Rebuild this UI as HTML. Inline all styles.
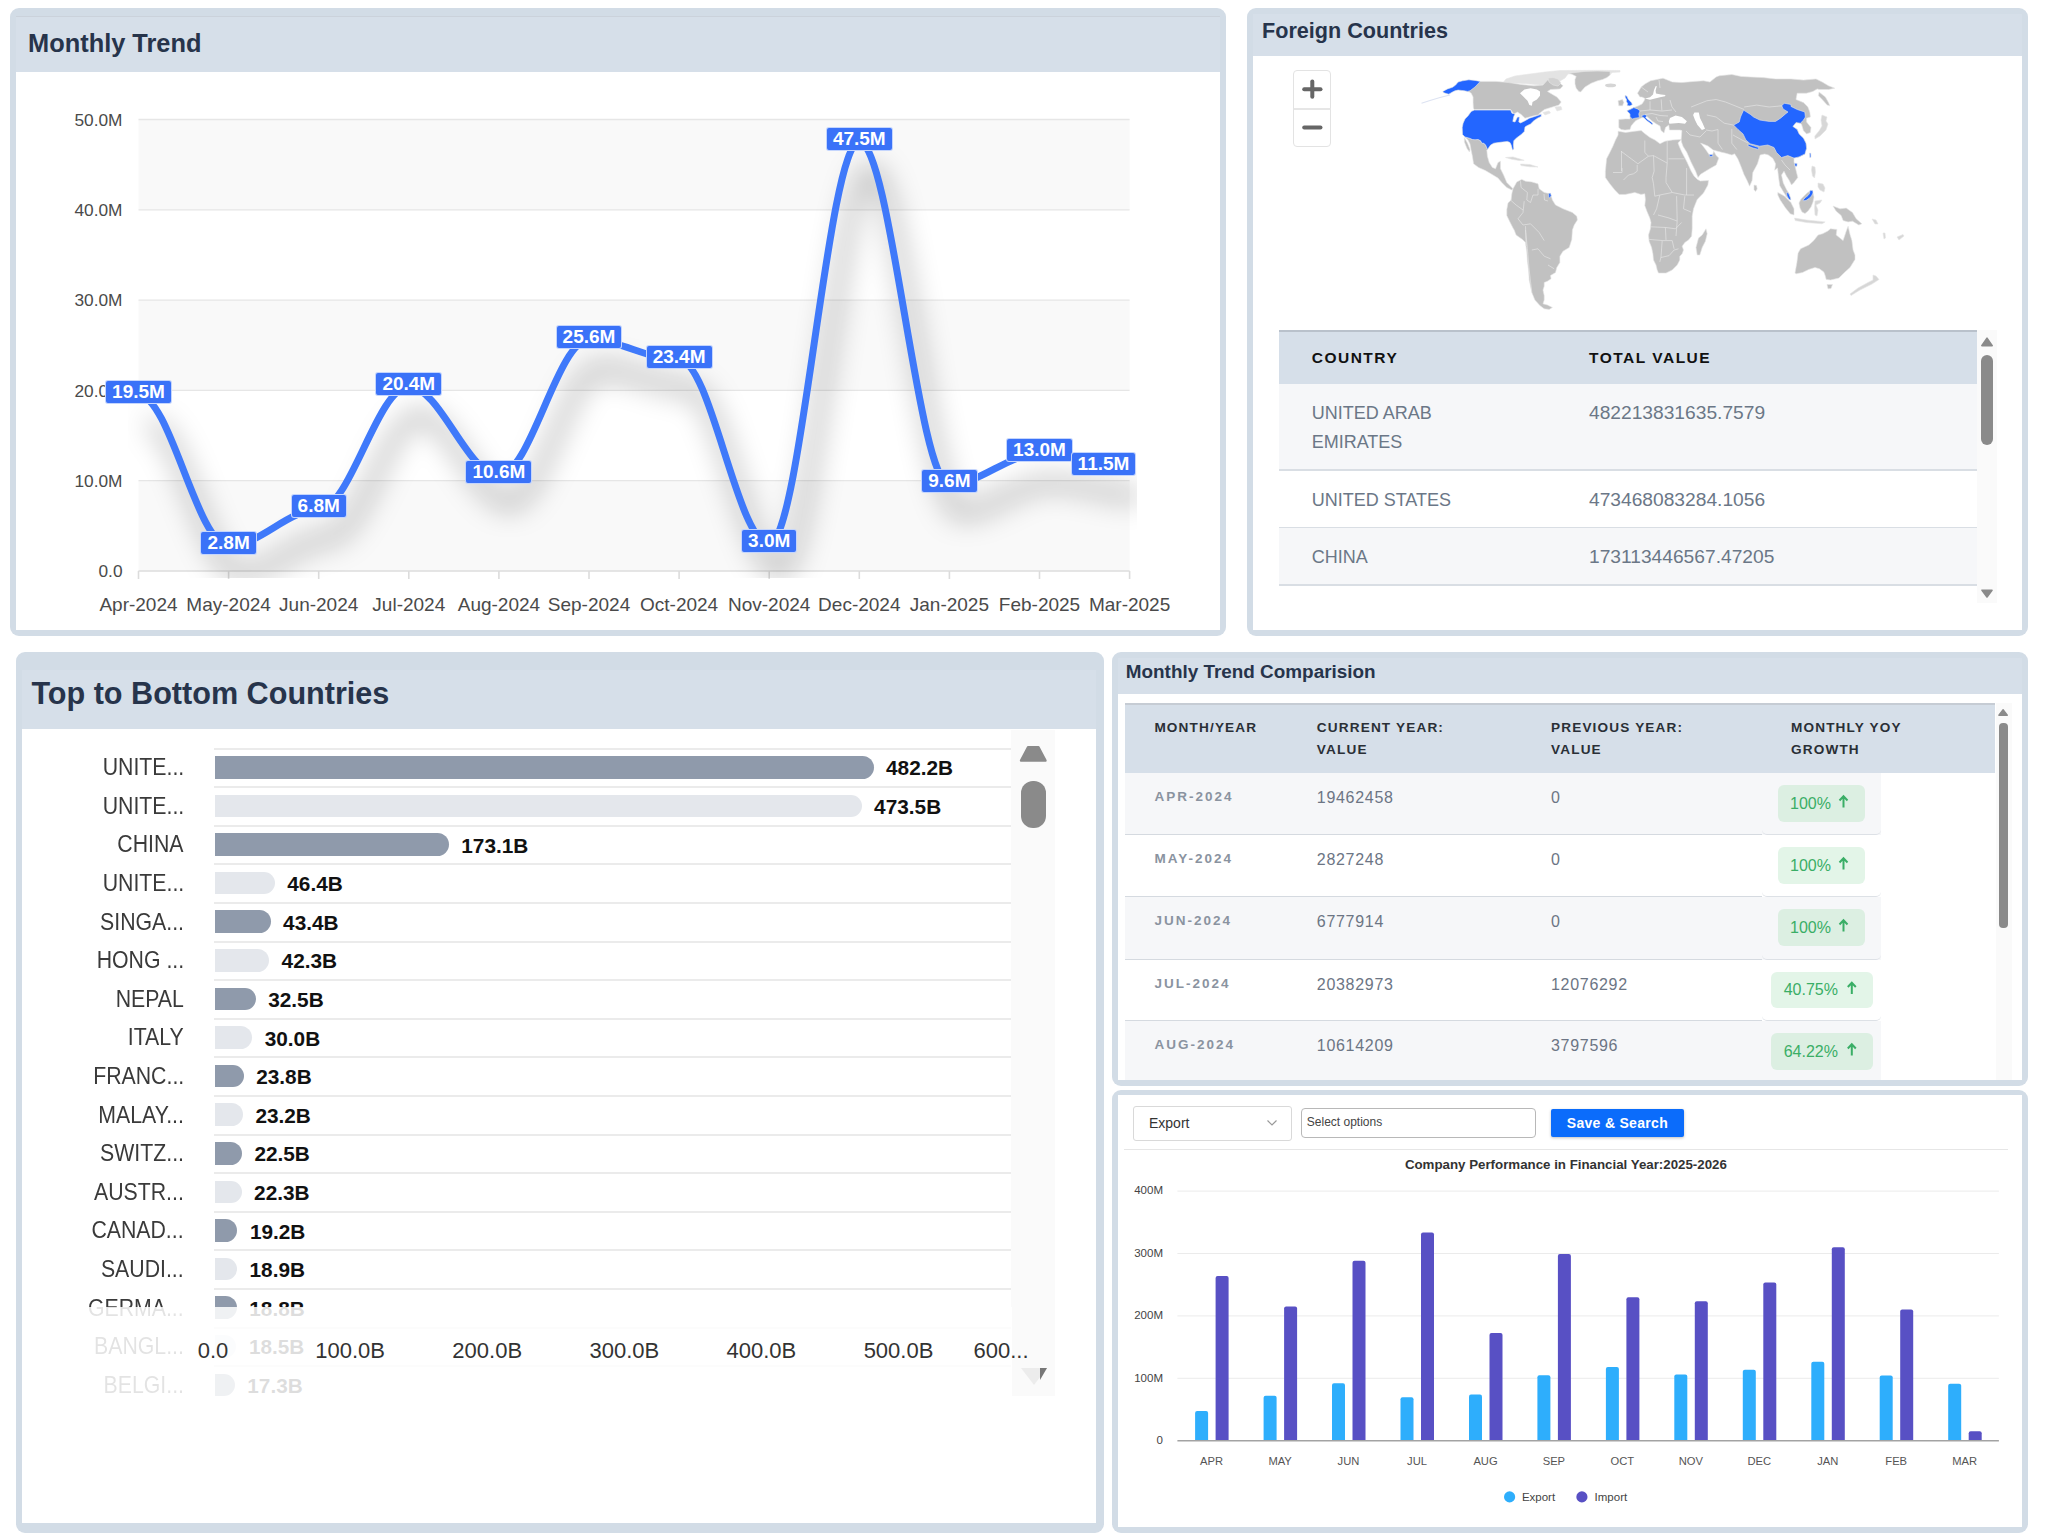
<!DOCTYPE html><html><head><meta charset="utf-8"><title>Dashboard</title><style>
html,body{margin:0;padding:0;background:#fff;width:2048px;height:1536px;overflow:hidden}
body{position:relative;font-family:"Liberation Sans", sans-serif}
.abs{position:absolute}
.t{line-height:1;white-space:nowrap}
svg{position:absolute;overflow:visible}
</style></head><body>
<div class="abs" style="left:10px;top:8px;width:1216px;height:628px;background:#d2dce6;border-radius:9px"></div>
<div class="abs" style="left:16px;top:16px;width:1204px;height:56px;background:#d6dfe9"></div>
<div class="abs" style="left:16px;top:72px;width:1204px;height:558px;background:#fff"></div>
<div class="abs" style="left:16px;top:16px;width:1204px;height:1.2px;background:#cbd2db"></div>
<div class="abs t" style="left:28.0px;top:31.0px;font-size:25.4px;font-weight:bold;color:#27344b;letter-spacing:0px;">Monthly Trend</div>
<svg class="abs" style="left:0;top:0" width="2048" height="700" viewBox="0 0 2048 700"><defs><filter id="lsh" filterUnits="userSpaceOnUse" x="0" y="0" width="1300" height="700"><feGaussianBlur stdDeviation="14"/></filter><clipPath id="shclip"><rect x="128" y="100" width="1009" height="478"/></clipPath></defs><rect x="138.5" y="480.7" width="991.1" height="90.3" fill="#f9f9f9"/><rect x="138.5" y="300.1" width="991.1" height="90.3" fill="#f9f9f9"/><rect x="138.5" y="119.5" width="991.1" height="90.3" fill="#f9f9f9"/><line x1="138.5" x2="1129.6" y1="480.7" y2="480.7" stroke="#e6e6e6" stroke-width="1.3"/><line x1="138.5" x2="1129.6" y1="390.4" y2="390.4" stroke="#e6e6e6" stroke-width="1.3"/><line x1="138.5" x2="1129.6" y1="300.1" y2="300.1" stroke="#e6e6e6" stroke-width="1.3"/><line x1="138.5" x2="1129.6" y1="209.8" y2="209.8" stroke="#e6e6e6" stroke-width="1.3"/><line x1="138.5" x2="1129.6" y1="119.5" y2="119.5" stroke="#e6e6e6" stroke-width="1.3"/><line x1="138.5" x2="1129.6" y1="571.0" y2="571.0" stroke="#dcdcdc" stroke-width="1.6"/><line x1="138.5" x2="138.5" y1="571.0" y2="579.0" stroke="#dcdcdc" stroke-width="1.6"/><line x1="228.6" x2="228.6" y1="571.0" y2="579.0" stroke="#dcdcdc" stroke-width="1.6"/><line x1="318.7" x2="318.7" y1="571.0" y2="579.0" stroke="#dcdcdc" stroke-width="1.6"/><line x1="408.8" x2="408.8" y1="571.0" y2="579.0" stroke="#dcdcdc" stroke-width="1.6"/><line x1="498.9" x2="498.9" y1="571.0" y2="579.0" stroke="#dcdcdc" stroke-width="1.6"/><line x1="589.0" x2="589.0" y1="571.0" y2="579.0" stroke="#dcdcdc" stroke-width="1.6"/><line x1="679.1" x2="679.1" y1="571.0" y2="579.0" stroke="#dcdcdc" stroke-width="1.6"/><line x1="769.2" x2="769.2" y1="571.0" y2="579.0" stroke="#dcdcdc" stroke-width="1.6"/><line x1="859.3" x2="859.3" y1="571.0" y2="579.0" stroke="#dcdcdc" stroke-width="1.6"/><line x1="949.4" x2="949.4" y1="571.0" y2="579.0" stroke="#dcdcdc" stroke-width="1.6"/><line x1="1039.5" x2="1039.5" y1="571.0" y2="579.0" stroke="#dcdcdc" stroke-width="1.6"/><line x1="1129.6" x2="1129.6" y1="571.0" y2="579.0" stroke="#dcdcdc" stroke-width="1.6"/><g clip-path="url(#shclip)"><path d="M138.50,394.92 C170.03,394.92 197.06,545.72 228.60,545.72 C260.13,545.72 287.16,509.60 318.70,509.60 C350.23,509.60 377.26,386.79 408.80,386.79 C440.33,386.79 467.36,475.28 498.90,475.28 C530.43,475.28 557.47,339.83 589.00,339.83 C620.53,339.83 647.56,359.70 679.10,359.70 C710.63,359.70 737.66,543.91 769.20,543.91 C800.73,543.91 827.76,142.08 859.30,142.08 C890.83,142.08 917.87,484.31 949.40,484.31 C980.93,484.31 1007.97,453.61 1039.50,453.61 C1071.03,453.61 1098.07,467.15 1129.60,467.15" fill="none" stroke="#000" stroke-opacity="0.5" stroke-width="7" filter="url(#lsh)" transform="translate(11,29)"/></g><path d="M138.50,394.92 C170.03,394.92 197.06,545.72 228.60,545.72 C260.13,545.72 287.16,509.60 318.70,509.60 C350.23,509.60 377.26,386.79 408.80,386.79 C440.33,386.79 467.36,475.28 498.90,475.28 C530.43,475.28 557.47,339.83 589.00,339.83 C620.53,339.83 647.56,359.70 679.10,359.70 C710.63,359.70 737.66,543.91 769.20,543.91 C800.73,543.91 827.76,142.08 859.30,142.08 C890.83,142.08 917.87,484.31 949.40,484.31 C980.93,484.31 1007.97,453.61 1039.50,453.61 C1071.03,453.61 1098.07,467.15 1129.60,467.15" fill="none" stroke="#3f79fa" stroke-width="7" stroke-linejoin="round" stroke-linecap="butt"/></svg>
<div class="abs t" style="right:1925.5px;top:563.3px;font-size:17.3px;font-weight:normal;color:#4a4a4a;letter-spacing:0px;">0.0</div>
<div class="abs t" style="right:1925.5px;top:473.0px;font-size:17.3px;font-weight:normal;color:#4a4a4a;letter-spacing:0px;">10.0M</div>
<div class="abs t" style="right:1925.5px;top:382.7px;font-size:17.3px;font-weight:normal;color:#4a4a4a;letter-spacing:0px;">20.0M</div>
<div class="abs t" style="right:1925.5px;top:292.4px;font-size:17.3px;font-weight:normal;color:#4a4a4a;letter-spacing:0px;">30.0M</div>
<div class="abs t" style="right:1925.5px;top:202.1px;font-size:17.3px;font-weight:normal;color:#4a4a4a;letter-spacing:0px;">40.0M</div>
<div class="abs t" style="right:1925.5px;top:111.8px;font-size:17.3px;font-weight:normal;color:#4a4a4a;letter-spacing:0px;">50.0M</div>
<div class="abs t" style="left:-361.5px;width:1000px;text-align:center;top:594.5px;font-size:19px;font-weight:normal;color:#4a4a4a;letter-spacing:0px;">Apr-2024</div>
<div class="abs t" style="left:-271.4px;width:1000px;text-align:center;top:594.5px;font-size:19px;font-weight:normal;color:#4a4a4a;letter-spacing:0px;">May-2024</div>
<div class="abs t" style="left:-181.3px;width:1000px;text-align:center;top:594.5px;font-size:19px;font-weight:normal;color:#4a4a4a;letter-spacing:0px;">Jun-2024</div>
<div class="abs t" style="left:-91.2px;width:1000px;text-align:center;top:594.5px;font-size:19px;font-weight:normal;color:#4a4a4a;letter-spacing:0px;">Jul-2024</div>
<div class="abs t" style="left:-1.1px;width:1000px;text-align:center;top:594.5px;font-size:19px;font-weight:normal;color:#4a4a4a;letter-spacing:0px;">Aug-2024</div>
<div class="abs t" style="left:89.0px;width:1000px;text-align:center;top:594.5px;font-size:19px;font-weight:normal;color:#4a4a4a;letter-spacing:0px;">Sep-2024</div>
<div class="abs t" style="left:179.1px;width:1000px;text-align:center;top:594.5px;font-size:19px;font-weight:normal;color:#4a4a4a;letter-spacing:0px;">Oct-2024</div>
<div class="abs t" style="left:269.2px;width:1000px;text-align:center;top:594.5px;font-size:19px;font-weight:normal;color:#4a4a4a;letter-spacing:0px;">Nov-2024</div>
<div class="abs t" style="left:359.3px;width:1000px;text-align:center;top:594.5px;font-size:19px;font-weight:normal;color:#4a4a4a;letter-spacing:0px;">Dec-2024</div>
<div class="abs t" style="left:449.4px;width:1000px;text-align:center;top:594.5px;font-size:19px;font-weight:normal;color:#4a4a4a;letter-spacing:0px;">Jan-2025</div>
<div class="abs t" style="left:539.5px;width:1000px;text-align:center;top:594.5px;font-size:19px;font-weight:normal;color:#4a4a4a;letter-spacing:0px;">Feb-2025</div>
<div class="abs t" style="left:629.6px;width:1000px;text-align:center;top:594.5px;font-size:19px;font-weight:normal;color:#4a4a4a;letter-spacing:0px;">Mar-2025</div>
<div class="abs t" style="left:78.5px;width:120px;top:379.7px;height:24px;display:flex;justify-content:center;align-items:center"><span style="background:#3a72f8;color:#fff;font-weight:bold;font-size:19px;line-height:22px;height:22px;padding:0 6px;border-radius:3px;border:1px solid rgba(255,255,255,0.7)">19.5M</span></div>
<div class="abs t" style="left:168.6px;width:120px;top:530.5px;height:24px;display:flex;justify-content:center;align-items:center"><span style="background:#3a72f8;color:#fff;font-weight:bold;font-size:19px;line-height:22px;height:22px;padding:0 6px;border-radius:3px;border:1px solid rgba(255,255,255,0.7)">2.8M</span></div>
<div class="abs t" style="left:258.7px;width:120px;top:494.4px;height:24px;display:flex;justify-content:center;align-items:center"><span style="background:#3a72f8;color:#fff;font-weight:bold;font-size:19px;line-height:22px;height:22px;padding:0 6px;border-radius:3px;border:1px solid rgba(255,255,255,0.7)">6.8M</span></div>
<div class="abs t" style="left:348.8px;width:120px;top:371.6px;height:24px;display:flex;justify-content:center;align-items:center"><span style="background:#3a72f8;color:#fff;font-weight:bold;font-size:19px;line-height:22px;height:22px;padding:0 6px;border-radius:3px;border:1px solid rgba(255,255,255,0.7)">20.4M</span></div>
<div class="abs t" style="left:438.9px;width:120px;top:460.1px;height:24px;display:flex;justify-content:center;align-items:center"><span style="background:#3a72f8;color:#fff;font-weight:bold;font-size:19px;line-height:22px;height:22px;padding:0 6px;border-radius:3px;border:1px solid rgba(255,255,255,0.7)">10.6M</span></div>
<div class="abs t" style="left:529.0px;width:120px;top:324.6px;height:24px;display:flex;justify-content:center;align-items:center"><span style="background:#3a72f8;color:#fff;font-weight:bold;font-size:19px;line-height:22px;height:22px;padding:0 6px;border-radius:3px;border:1px solid rgba(255,255,255,0.7)">25.6M</span></div>
<div class="abs t" style="left:619.1px;width:120px;top:344.5px;height:24px;display:flex;justify-content:center;align-items:center"><span style="background:#3a72f8;color:#fff;font-weight:bold;font-size:19px;line-height:22px;height:22px;padding:0 6px;border-radius:3px;border:1px solid rgba(255,255,255,0.7)">23.4M</span></div>
<div class="abs t" style="left:709.2px;width:120px;top:528.7px;height:24px;display:flex;justify-content:center;align-items:center"><span style="background:#3a72f8;color:#fff;font-weight:bold;font-size:19px;line-height:22px;height:22px;padding:0 6px;border-radius:3px;border:1px solid rgba(255,255,255,0.7)">3.0M</span></div>
<div class="abs t" style="left:799.3px;width:120px;top:126.9px;height:24px;display:flex;justify-content:center;align-items:center"><span style="background:#3a72f8;color:#fff;font-weight:bold;font-size:19px;line-height:22px;height:22px;padding:0 6px;border-radius:3px;border:1px solid rgba(255,255,255,0.7)">47.5M</span></div>
<div class="abs t" style="left:889.4px;width:120px;top:469.1px;height:24px;display:flex;justify-content:center;align-items:center"><span style="background:#3a72f8;color:#fff;font-weight:bold;font-size:19px;line-height:22px;height:22px;padding:0 6px;border-radius:3px;border:1px solid rgba(255,255,255,0.7)">9.6M</span></div>
<div class="abs t" style="left:979.5px;width:120px;top:438.4px;height:24px;display:flex;justify-content:center;align-items:center"><span style="background:#3a72f8;color:#fff;font-weight:bold;font-size:19px;line-height:22px;height:22px;padding:0 6px;border-radius:3px;border:1px solid rgba(255,255,255,0.7)">13.0M</span></div>
<div class="abs t" style="left:1043.5px;width:120px;top:452.0px;height:24px;display:flex;justify-content:center;align-items:center"><span style="background:#3a72f8;color:#fff;font-weight:bold;font-size:19px;line-height:22px;height:22px;padding:0 6px;border-radius:3px;border:1px solid rgba(255,255,255,0.7)">11.5M</span></div>
<div class="abs" style="left:1247px;top:8px;width:781px;height:628px;background:#d2dce6;border-radius:9px"></div>
<div class="abs" style="left:1253px;top:14px;width:769px;height:42px;background:#d6dfe9"></div>
<div class="abs" style="left:1253px;top:56px;width:769px;height:574px;background:#fff"></div>
<div class="abs t" style="left:1262.0px;top:20.3px;font-size:21.6px;font-weight:bold;color:#27344b;letter-spacing:0px;">Foreign Countries</div>
<svg class="abs" style="left:0;top:0" width="2048" height="640" viewBox="0 0 2048 640">
<g stroke="#e6e6e6" stroke-width="0.6" stroke-linejoin="round">
<path d="M1502.0,84.0 L1506.0,79.0 L1515.0,76.0 L1530.0,74.0 L1545.0,72.0 L1560.0,70.5 L1600.0,70.3 L1620.0,70.5 L1620.0,72.0 L1612.0,72.5 L1610.0,75.0 L1600.0,73.0 L1575.0,73.0 L1568.0,74.0 L1565.0,78.0 L1555.0,84.0 L1540.0,85.0 L1530.0,84.0 L1515.0,83.0 Z" fill="#e3e3e3"/>
<path d="M1480.3,81.4 L1496.2,81.4 L1508.8,82.6 L1521.2,84.5 L1533.8,85.8 L1543.0,85.1 L1547.5,80.0 L1556.9,80.8 L1563.1,85.8 L1560.0,88.9 L1550.6,89.5 L1547.5,91.4 L1552.5,94.5 L1556.9,97.0 L1561.2,102.0 L1558.8,105.1 L1550.6,107.6 L1544.4,109.5 L1541.2,112.0 L1538.8,113.9 L1541.2,114.2 L1533.8,115.8 L1527.5,117.6 L1525.0,118.2 L1521.2,114.5 L1517.5,112.0 L1513.8,113.9 L1510.6,109.5 L1474.4,109.5 L1473.4,108.2 L1473.1,102.6 L1473.1,97.0 L1471.2,93.2 L1469.4,92.0 L1467.5,91.4 Z" fill="#c1c1c1"/>
<path d="M1548.0,78.0 L1553.0,77.5 L1558.0,79.0 L1561.0,83.0 L1558.0,86.0 L1553.0,85.0 L1549.0,82.0 Z" fill="#d2d2d2"/>
<path d="M1520.0,93.2 L1524.4,89.5 L1530.6,88.2 L1536.9,89.5 L1540.0,91.4 L1540.0,95.8 L1536.9,99.5 L1532.5,102.0 L1531.9,105.8 L1529.4,105.1 L1527.5,100.8 L1523.8,97.0 Z" fill="#fff" stroke="none"/>
<path d="M1568.8,73.2 L1585.0,71.4 L1597.5,71.1 L1610.0,71.4 L1610.0,75.1 L1606.9,77.6 L1602.5,79.5 L1597.5,80.8 L1591.2,83.2 L1585.0,87.0 L1580.6,92.0 L1578.8,91.4 L1576.2,88.2 L1575.0,83.9 L1575.0,79.5 L1576.2,76.4 L1572.5,74.5 Z" fill="#c1c1c1"/>
<path d="M1555.0,107.0 L1561.0,106.5 L1562.0,109.5 L1557.0,111.0 Z" fill="#e2e2e2"/>
<path d="M1543.0,112.5 L1549.0,111.0 L1550.5,113.0 L1545.0,115.0 Z" fill="#e2e2e2"/>
<path d="M1465.0,137.0 L1469.4,138.2 L1472.5,139.5 L1478.1,139.5 L1480.6,140.8 L1481.9,143.2 L1483.8,143.2 L1485.6,145.1 L1487.5,149.5 L1486.8,150.0 L1487.4,156.2 L1489.2,162.5 L1492.4,167.5 L1495.5,168.8 L1498.0,162.5 L1500.5,161.2 L1500.5,168.8 L1503.6,175.0 L1506.8,182.5 L1511.8,187.5 L1513.0,188.8 L1511.8,190.0 L1506.8,187.5 L1501.8,182.5 L1498.0,178.1 L1493.0,175.0 L1485.5,170.6 L1478.6,167.5 L1473.6,163.8 L1472.4,156.2 L1471.1,150.0 L1470.0,144.0 L1468.0,140.0 Z" fill="#c1c1c1"/>
<path d="M1464.4,137.6 L1467.5,143.2 L1470.0,149.5 L1469.4,152.0 L1466.9,148.2 L1464.4,142.0 Z" fill="#c1c1c1"/>
<path d="M1505.5,157.5 L1513.0,156.9 L1519.2,158.8 L1524.2,160.3 L1519.2,160.5 L1511.8,159.3 Z" fill="#d7d7d7"/>
<path d="M1520.5,164.0 L1530.0,164.5 L1538.0,167.0 L1530.0,166.8 L1521.0,165.6 Z" fill="#d7d7d7"/>
<path d="M1513.0,188.8 L1516.8,181.9 L1521.8,179.4 L1525.5,181.2 L1531.8,181.9 L1538.0,183.8 L1539.2,188.8 L1544.2,192.5 L1550.5,193.8 L1552.4,200.0 L1555.5,205.0 L1563.0,208.8 L1572.4,212.5 L1576.8,216.2 L1577.4,220.0 L1574.2,225.0 L1572.4,230.0 L1571.8,239.4 L1569.2,247.5 L1563.0,251.2 L1559.9,256.2 L1559.9,262.5 L1556.8,267.5 L1555.5,272.5 L1550.5,275.6 L1551.1,278.8 L1547.4,281.2 L1544.2,282.5 L1544.2,286.2 L1543.0,290.0 L1544.2,295.6 L1544.2,300.0 L1543.0,303.8 L1547.4,305.0 L1552.4,307.5 L1549.2,309.4 L1544.2,308.8 L1539.9,305.6 L1534.9,300.0 L1531.8,292.5 L1530.5,286.2 L1529.2,280.0 L1528.6,270.6 L1527.4,261.2 L1526.8,251.9 L1525.5,242.5 L1522.4,239.4 L1516.1,235.0 L1514.2,230.0 L1513.0,228.1 L1509.9,221.9 L1506.8,215.6 L1506.8,209.4 L1508.0,203.1 L1511.1,200.0 L1511.8,193.8 Z" fill="#c1c1c1"/>
<path d="M1618.1,131.2 L1625.6,132.5 L1635.0,131.2 L1641.2,130.6 L1645.0,133.8 L1650.0,137.5 L1655.0,140.0 L1660.0,143.8 L1665.0,141.2 L1672.5,140.0 L1681.2,139.4 L1678.0,143.0 L1679.5,147.0 L1682.0,152.5 L1687.0,162.0 L1691.2,171.2 L1694.0,176.0 L1697.5,179.5 L1700.4,181.0 L1708.5,180.5 L1707.9,185.0 L1703.5,193.1 L1697.2,199.4 L1693.5,208.8 L1692.2,216.2 L1692.2,225.6 L1692.2,228.8 L1691.6,236.2 L1688.5,240.0 L1684.8,242.5 L1682.2,246.2 L1683.5,250.0 L1682.2,253.8 L1679.8,256.2 L1679.8,260.0 L1677.2,265.0 L1672.2,270.0 L1666.0,273.1 L1658.5,273.1 L1657.2,270.0 L1656.0,265.0 L1653.5,260.0 L1652.9,253.8 L1651.6,247.5 L1649.1,241.2 L1648.5,235.0 L1650.4,228.8 L1651.0,222.5 L1649.8,218.1 L1647.2,211.9 L1644.8,205.6 L1645.4,199.4 L1644.8,193.8 L1641.0,194.4 L1634.8,192.5 L1625.4,194.4 L1619.1,194.4 L1614.8,190.0 L1609.8,183.8 L1605.4,177.5 L1605.4,171.2 L1606.0,165.0 L1606.6,158.8 L1609.8,152.5 L1612.9,146.2 L1615.5,140.0 L1618.1,135.0 Z" fill="#c1c1c1"/>
<path d="M1696.0,247.5 L1698.5,238.1 L1702.2,235.0 L1706.0,228.8 L1707.2,233.8 L1705.4,241.2 L1702.2,247.5 L1699.8,255.0 L1697.2,255.0 Z" fill="#c1c1c1"/>
<path d="M1621.2,129.5 L1618.8,127.6 L1618.8,122.6 L1618.8,119.5 L1625.6,118.9 L1630.0,119.0 L1630.0,117.0 L1630.0,113.9 L1626.9,110.8 L1630.0,109.5 L1633.8,107.6 L1638.0,106.0 L1642.0,104.0 L1644.0,101.0 L1645.0,98.5 L1642.0,97.0 L1640.0,97.0 L1637.5,93.2 L1641.2,87.0 L1645.0,83.9 L1650.6,80.8 L1656.9,79.5 L1663.0,78.2 L1672.4,82.0 L1681.8,82.6 L1694.2,81.4 L1703.6,80.8 L1709.9,82.0 L1716.1,77.0 L1719.2,75.8 L1731.8,74.5 L1741.1,76.4 L1750.5,77.0 L1763.0,77.6 L1775.5,78.9 L1791.0,78.9 L1803.5,80.1 L1816.0,78.9 L1822.2,82.0 L1828.5,85.8 L1834.8,88.2 L1828.5,89.5 L1819.1,89.5 L1817.2,88.9 L1812.9,91.4 L1806.6,93.2 L1797.2,93.2 L1796.0,99.5 L1803.5,102.6 L1807.9,107.0 L1809.8,112.0 L1810.4,117.0 L1806.6,118.2 L1806.6,122.0 L1811.0,127.6 L1810.4,132.6 L1806.6,133.9 L1803.5,130.8 L1801.6,124.5 L1800.4,123.2 L1796.0,122.6 L1792.9,126.4 L1797.2,129.5 L1799.1,133.9 L1803.5,138.2 L1806.0,143.2 L1806.6,148.2 L1804.0,154.4 L1799.0,156.9 L1794.0,158.1 L1794.0,161.9 L1797.8,177.5 L1794.0,182.5 L1791.5,185.0 L1789.0,180.0 L1786.5,176.2 L1784.0,171.2 L1781.5,175.0 L1783.3,183.0 L1786.5,189.5 L1789.6,194.5 L1790.6,199.6 L1787.0,197.5 L1783.5,192.0 L1779.8,185.8 L1778.6,177.5 L1777.5,168.0 L1774.7,170.2 L1775.6,163.8 L1772.8,158.3 L1768.3,154.9 L1764.6,154.0 L1760.1,155.0 L1757.5,163.8 L1752.8,172.5 L1752.1,180.6 L1749.6,186.2 L1747.1,180.6 L1744.0,174.4 L1740.9,166.2 L1737.8,158.8 L1734.6,153.8 L1731.9,155.0 L1725.0,153.0 L1722.5,152.5 L1713.1,150.0 L1708.0,146.0 L1700.6,143.1 L1705.6,149.4 L1709.4,155.0 L1712.5,155.0 L1713.8,151.2 L1716.2,155.6 L1718.8,158.1 L1716.2,165.0 L1710.0,168.5 L1700.6,174.2 L1698.0,177.5 L1695.6,171.2 L1691.0,162.0 L1686.9,152.5 L1683.0,146.2 L1681.5,141.9 L1681.2,139.4 L1681.9,130.6 L1680.0,130.0 L1669.4,130.0 L1668.8,125.0 L1665.5,127.5 L1664.0,133.0 L1661.0,130.5 L1660.0,126.0 L1656.5,124.0 L1652.0,121.0 L1647.0,116.5 L1641.0,118.0 L1636.0,120.5 L1634.4,122.0 L1631.2,125.8 L1630.0,129.5 L1625.0,130.1 Z" fill="#c1c1c1"/>
<path d="M1670.0,118.1 L1675.6,115.6 L1681.9,116.9 L1686.9,121.2 L1685.0,123.8 L1678.8,123.1 L1669.4,123.8 L1668.8,121.2 Z" fill="#fff" stroke="none"/>
<path d="M1694.4,112.5 L1698.8,112.5 L1700.0,118.1 L1702.5,123.1 L1705.0,128.8 L1701.9,130.0 L1697.5,125.0 L1695.0,120.0 L1693.1,115.0 Z" fill="#fff" stroke="none"/>
<path d="M1645.0,98.6 L1650.0,97.2 L1653.0,94.5 L1654.0,90.0 L1655.8,86.0 L1656.8,86.2 L1655.6,90.5 L1656.0,93.5 L1661.0,94.6 L1665.5,95.0 L1665.0,96.3 L1660.0,97.2 L1655.0,98.4 L1650.0,99.8 Z" fill="#fff" stroke="none"/>
<path d="M1618.1,100.8 L1622.5,99.5 L1623.8,102.6 L1622.5,105.8 L1618.8,105.8 Z" fill="#c1c1c1"/>
<path d="M1754.0,185.0 L1756.5,185.5 L1757.2,189.0 L1755.5,191.5 L1754.0,189.5 Z" fill="#c1c1c1"/>
<path d="M1822.0,115.0 L1827.0,117.0 L1826.0,121.0 L1828.0,124.0 L1826.0,130.0 L1820.0,136.0 L1815.0,139.0 L1814.8,136.0 L1819.0,131.0 L1822.0,126.0 L1821.0,120.0 Z" fill="#d7d7d7"/>
<path d="M1819.0,92.0 L1825.4,97.0 L1828.5,102.6 L1829.8,105.8 L1827.2,105.1 L1822.2,99.5 L1818.5,95.8 Z" fill="#c1c1c1"/>
<path d="M1777.8,192.5 L1784.6,196.2 L1790.9,202.5 L1794.0,208.8 L1794.0,215.0 L1790.2,213.8 L1785.2,207.5 L1780.2,200.0 L1777.8,195.0 Z" fill="#c1c1c1"/>
<path d="M1794.6,218.1 L1806.5,220.0 L1825.2,221.9 L1822.1,223.8 L1806.5,222.5 L1795.2,220.6 Z" fill="#d7d7d7"/>
<path d="M1799.0,203.0 L1801.0,199.0 L1804.0,196.0 L1807.0,193.0 L1810.0,191.0 L1813.0,193.0 L1814.0,197.0 L1813.0,202.0 L1811.0,207.0 L1808.0,211.0 L1805.0,213.5 L1802.0,212.0 L1800.0,208.0 Z" fill="#c1c1c1"/>
<path d="M1815.0,201.0 L1822.0,200.0 L1820.0,203.0 L1816.0,205.0 L1818.0,210.0 L1817.0,216.0 L1815.0,215.0 L1814.6,208.0 Z" fill="#d7d7d7"/>
<path d="M1812.0,166.0 L1815.0,167.0 L1815.5,172.0 L1814.5,178.0 L1812.5,176.0 L1811.5,170.0 Z" fill="#d7d7d7"/>
<path d="M1818.0,183.0 L1823.0,184.0 L1825.0,188.0 L1824.0,192.0 L1820.0,190.0 L1818.0,187.0 Z" fill="#d7d7d7"/>
<path d="M1833.0,206.0 L1840.0,208.8 L1846.2,208.1 L1852.5,212.5 L1856.2,218.8 L1861.9,223.8 L1858.8,225.0 L1852.5,221.2 L1848.1,221.9 L1843.1,220.6 L1841.2,215.6 L1836.0,211.0 Z" fill="#c1c1c1"/>
<path d="M1795.0,273.1 L1796.9,262.5 L1798.1,253.1 L1800.6,248.8 L1808.8,245.0 L1813.8,240.6 L1818.1,235.0 L1822.5,233.8 L1827.5,231.2 L1830.6,228.8 L1836.9,229.4 L1836.2,235.0 L1843.1,240.6 L1846.2,231.2 L1848.1,226.2 L1850.0,234.4 L1851.9,240.6 L1853.1,250.0 L1855.0,255.0 L1855.0,259.4 L1850.0,267.5 L1844.4,272.5 L1838.8,278.1 L1830.6,280.0 L1826.2,279.4 L1825.0,275.0 L1823.8,271.9 L1819.4,268.8 L1815.0,267.5 L1808.8,269.4 L1802.5,272.5 L1796.2,273.8 Z" fill="#c1c1c1"/>
<path d="M1827.0,284.5 L1832.5,284.5 L1831.0,288.5 L1828.0,288.8 Z" fill="#c1c1c1"/>
<path d="M1873.0,275.0 L1876.0,276.0 L1879.0,279.5 L1872.0,284.0 L1860.0,290.0 L1851.0,295.5 L1850.0,294.0 L1858.0,288.0 L1868.0,282.5 L1873.0,280.0 Z" fill="#d7d7d7"/>
<path d="M1897.0,237.0 L1903.0,234.5 L1904.0,236.0 L1899.0,240.0 Z" fill="#d7d7d7"/>
<path d="M1883.0,233.0 L1885.0,233.0 L1885.5,238.0 L1884.0,239.0 Z" fill="#d7d7d7"/>
<path d="M1872.0,219.0 L1876.0,220.0 L1878.0,224.0 L1875.0,224.0 Z" fill="#d7d7d7"/>
<path d="M1442.8,91.4 L1447.5,88.9 L1452.5,87.3 L1455.6,85.1 L1458.1,82.0 L1462.5,80.8 L1468.8,79.8 L1475.0,80.4 L1480.3,81.4 L1475.0,87.0 L1470.0,90.8 L1467.5,91.4 L1464.4,90.8 L1461.2,90.4 L1458.1,90.1 L1455.0,90.8 L1452.5,92.0 L1448.8,94.2 L1446.2,93.6 L1443.4,92.6 Z" fill="#2366ff"/>
<path d="M1474.4,110.1 L1510.6,110.1 L1511.9,113.2 L1515.0,113.9 L1513.8,116.4 L1512.8,121.4 L1515.0,122.0 L1517.5,117.0 L1519.4,117.0 L1518.8,122.0 L1520.6,122.9 L1525.0,120.8 L1529.4,118.2 L1536.9,115.8 L1541.2,114.2 L1541.2,116.4 L1537.5,118.2 L1533.8,120.8 L1530.6,123.9 L1526.9,125.8 L1525.0,127.0 L1524.4,131.4 L1521.2,134.5 L1516.2,138.2 L1513.8,140.8 L1513.4,145.1 L1513.8,148.9 L1512.5,150.1 L1511.2,145.1 L1510.0,142.6 L1507.5,141.4 L1502.5,142.0 L1498.1,142.6 L1493.8,143.2 L1490.6,145.1 L1487.5,149.5 L1485.6,145.1 L1483.8,143.2 L1481.9,143.2 L1480.6,140.8 L1478.1,139.5 L1475.0,139.8 L1472.5,139.5 L1469.4,138.2 L1465.0,137.0 L1462.5,134.5 L1462.2,127.6 L1463.1,123.2 L1465.0,118.9 L1468.1,115.8 L1471.2,111.4 Z" fill="#2366ff"/>
<path d="M1630.0,109.5 L1633.8,107.6 L1637.5,108.9 L1640.0,110.8 L1638.8,113.9 L1639.4,117.6 L1635.0,118.2 L1632.5,118.9 L1630.0,117.0 L1630.0,113.9 L1626.9,110.8 Z" fill="#2366ff"/>
<path d="M1625.0,95.3 L1627.0,96.3 L1628.0,98.8 L1629.6,100.8 L1631.6,102.8 L1632.4,104.6 L1630.0,105.9 L1627.0,105.6 L1627.6,103.5 L1626.4,101.5 L1626.5,99.5 L1625.3,97.6 Z" fill="#2366ff"/>
<path d="M1641.2,115.8 L1645.0,114.5 L1646.9,115.8 L1645.6,117.6 L1647.5,119.5 L1651.2,122.0 L1653.1,123.9 L1651.9,124.5 L1649.4,122.6 L1646.9,120.8 L1644.4,118.2 L1642.5,117.0 Z" fill="#2366ff"/>
<path d="M1743.6,110.1 L1750.5,114.5 L1753.6,117.0 L1759.9,120.1 L1769.2,121.4 L1775.5,121.4 L1780.5,118.2 L1785.5,113.9 L1788.0,112.0 L1783.0,108.9 L1781.8,105.8 L1784.2,103.2 L1791.0,104.5 L1791.0,106.4 L1797.2,109.5 L1804.8,112.0 L1805.4,117.0 L1803.5,120.1 L1800.4,123.2 L1796.0,122.6 L1792.9,126.4 L1797.2,129.5 L1799.1,133.9 L1803.5,138.2 L1806.0,143.2 L1806.6,148.2 L1804.8,154.5 L1804.0,154.4 L1799.0,156.9 L1794.0,158.1 L1787.8,155.6 L1781.5,157.5 L1776.5,152.5 L1774.0,147.5 L1767.8,145.0 L1759.6,146.2 L1750.2,143.8 L1745.9,140.0 L1743.0,133.9 L1738.0,129.5 L1733.6,125.1 L1739.2,122.0 L1740.5,117.0 Z" fill="#2366ff"/>
<path d="M1748.2,144.0 L1753.0,145.6 L1758.8,147.6 L1758.4,149.4 L1753.0,148.0 L1748.0,146.0 Z" fill="#2366ff"/>
<path d="M1709.3,154.6 L1712.6,154.4 L1712.8,156.3 L1709.5,156.4 Z" fill="#2366ff"/>
<path d="M1786.5,192.5 L1788.5,193.0 L1790.5,198.0 L1790.9,200.0 L1789.0,199.5 L1787.0,196.0 Z" fill="#2366ff"/>
<path d="M1803.0,200.0 L1805.5,197.5 L1808.0,195.5 L1809.5,193.5 L1810.0,190.3 L1812.8,190.6 L1813.0,193.0 L1811.5,196.0 L1809.0,198.5 L1806.0,200.5 L1803.5,200.8 Z" fill="#2366ff"/>
<path d="M1809.6,153.0 L1810.8,153.2 L1811.0,157.3 L1809.8,157.4 Z" fill="#2366ff"/>
<path d="M1548.6,193.5 L1550.5,193.1 L1551.2,195.5 L1550.0,198.0 L1548.8,197.5 Z" fill="#2366ff"/>
<path d="M1794.6,163.2 L1797.1,163.4 L1797.0,166.2 L1795.0,166.3 Z" fill="#2366ff"/>
</g>
<g stroke="#e4e4e4" stroke-width="0.7" fill="none" stroke-linejoin="round">
<path d="M1621.5,151.0 L1621.5,171.0"/>
<path d="M1621.0,151.2 L1637.9,163.8"/>
<path d="M1637.9,163.8 L1648.5,156.2 L1653.5,155.6 L1667.2,163.1"/>
<path d="M1644.8,140.5 L1644.8,152.5 L1648.5,156.2"/>
<path d="M1667.2,140.5 L1667.2,163.1 L1666.0,177.5 L1666.0,182.5 L1672.2,192.5"/>
<path d="M1668.5,158.8 L1684.5,158.8"/>
<path d="M1653.5,155.6 L1654.1,171.2 L1652.2,177.5 L1653.5,183.8 L1654.8,196.2"/>
<path d="M1637.2,165.0 L1637.2,171.2 L1633.5,173.8 L1628.5,175.0 L1623.5,180.0"/>
<path d="M1613.0,172.5 L1622.0,172.5 L1622.0,168.0"/>
<path d="M1654.8,196.2 L1659.8,195.0 L1672.2,192.5 L1684.8,195.0 L1694.0,195.0"/>
<path d="M1686.6,168.0 L1686.6,195.0"/>
<path d="M1676.6,196.2 L1677.2,221.2 L1676.0,236.0"/>
<path d="M1659.8,195.0 L1656.6,208.8 L1653.5,215.0"/>
<path d="M1684.8,196.2 L1683.5,208.8 L1691.0,212.0"/>
<path d="M1649.1,239.4 L1662.9,240.6 L1672.2,240.6"/>
<path d="M1662.2,240.6 L1661.0,256.9 L1659.8,261.9"/>
<path d="M1661.0,257.5 L1669.1,255.6 L1674.1,250.0 L1678.5,248.8"/>
<path d="M1672.2,240.6 L1674.1,248.8"/>
<path d="M1651.0,226.8 L1666.0,227.5 L1675.4,228.8 L1681.6,222.5"/>
<path d="M1665.4,227.5 L1666.0,240.0"/>
<path d="M1658.0,215.0 L1669.0,218.0 L1677.0,221.0"/>
<path d="M1520.5,181.2 L1521.1,187.5 L1527.4,192.5 L1526.8,200.0 L1530.5,202.5 L1533.0,195.0 L1538.0,195.0 L1538.0,188.8"/>
<path d="M1510.5,200.0 L1516.1,205.0 L1523.0,210.0"/>
<path d="M1524.2,201.2 L1523.0,212.5 L1518.0,218.8 L1523.0,225.0 L1530.5,223.8 L1539.2,232.5 L1544.2,240.6"/>
<path d="M1525.5,226.2 L1526.1,246.0"/>
<path d="M1525.5,230.0 L1527.4,248.8 L1529.2,270.0 L1531.8,292.5"/>
<path d="M1531.8,250.0 L1538.0,248.8 L1544.2,256.2 L1550.5,258.8"/>
<path d="M1548.0,265.0 L1554.2,268.8"/>
<path d="M1544.0,194.0 L1544.5,200.0 L1548.0,201.0"/>
<path d="M1691.1,107.0 L1706.8,100.8 L1716.1,99.5 L1725.5,102.0 L1738.0,107.0 L1744.2,109.5"/>
<path d="M1744.2,107.0 L1756.8,105.1 L1769.2,107.0 L1781.8,105.8"/>
<path d="M1706.8,115.0 L1716.1,117.0 L1724.2,123.2 L1733.6,125.1"/>
<path d="M1718.0,129.5 L1718.0,143.2 L1722.4,149.5"/>
<path d="M1731.8,128.9 L1731.8,143.2 L1736.8,149.5"/>
<path d="M1706.0,130.0 L1712.0,131.0 L1718.0,129.5"/>
<path d="M1686.0,131.0 L1690.0,135.0 L1700.0,137.0 L1706.0,131.0"/>
<path d="M1650.0,101.2 L1650.0,110.0"/>
<path d="M1661.2,99.4 L1661.9,110.6"/>
<path d="M1640.0,111.0 L1650.0,110.0 L1662.0,111.0 L1672.0,110.0"/>
<path d="M1645.0,114.5 L1652.0,113.5 L1660.0,115.5 L1668.0,116.0"/>
<path d="M1656.0,117.0 L1658.0,121.0 L1663.0,121.5"/>
<path d="M1670.0,100.0 L1672.0,107.0 L1676.0,112.0"/>
<path d="M1641.2,87.0 L1648.0,92.0"/>
<path d="M1659.0,80.0 L1660.0,88.0"/>
<path d="M1781.5,160.0 L1785.0,165.0 L1790.0,170.0"/>
<path d="M1733.0,135.0 L1742.0,140.0 L1748.0,143.0"/>
</g>
<path d="M1421.5,103.2 L1430,100.5 L1440,97.5 L1450,95" stroke="#dde3f2" stroke-width="1.2" fill="none"/>
<ellipse cx="1610.6" cy="85.4" rx="5.5" ry="1.8" fill="#d5d5d5"/>
</svg>
<div class="abs" style="left:1292.6px;top:69.6px;width:36.8px;height:75.5px;border:1.6px solid #e3e3e3;border-radius:4px;background:#fff"></div>
<div class="abs" style="left:1294px;top:108.2px;width:36.8px;height:1.6px;background:#e6e6e6"></div>
<svg class="abs" style="left:0;top:0" width="2048" height="200"><g stroke="#666" stroke-width="4" stroke-linecap="round"><line x1="1304.2" y1="89.2" x2="1320.5" y2="89.2"/><line x1="1312.3" y1="81.5" x2="1312.3" y2="96.8"/><line x1="1304.2" y1="127.6" x2="1320.5" y2="127.6"/></g></svg>
<div class="abs" style="left:1278.6px;top:330px;width:698.0px;height:1.6px;background:#b9c1cb"></div>
<div class="abs" style="left:1278.6px;top:331.6px;width:698.0px;height:52.7px;background:#d6dfe9"></div>
<div class="abs" style="left:1278.6px;top:384.3px;width:698.0px;height:85.69999999999999px;background:#f6f7f9"></div>
<div class="abs" style="left:1278.6px;top:470px;width:698.0px;height:57.799999999999955px;background:#fff"></div>
<div class="abs" style="left:1278.6px;top:527.8px;width:698.0px;height:57.200000000000045px;background:#f6f7f9"></div>
<div class="abs" style="left:1278.6px;top:469.3px;width:698.0px;height:1.4px;background:#d9dee4"></div>
<div class="abs" style="left:1278.6px;top:527.0999999999999px;width:698.0px;height:1.4px;background:#d9dee4"></div>
<div class="abs" style="left:1278.6px;top:584.3px;width:698.0px;height:1.4px;background:#d9dee4"></div>
<div class="abs t" style="left:1311.7px;top:349.5px;font-size:15.5px;font-weight:bold;color:#111;letter-spacing:1.5px;">COUNTRY</div>
<div class="abs t" style="left:1589.0px;top:349.5px;font-size:15.5px;font-weight:bold;color:#111;letter-spacing:1.5px;">TOTAL VALUE</div>
<div class="abs t" style="left:1311.7px;top:404.4px;font-size:18px;font-weight:normal;color:#6b7787;letter-spacing:0px;">UNITED ARAB</div>
<div class="abs t" style="left:1311.7px;top:432.9px;font-size:18px;font-weight:normal;color:#6b7787;letter-spacing:0px;">EMIRATES</div>
<div class="abs t" style="left:1589.0px;top:403.4px;font-size:19.2px;font-weight:normal;color:#6b7787;letter-spacing:0px;">482213831635.7579</div>
<div class="abs t" style="left:1311.7px;top:490.7px;font-size:18px;font-weight:normal;color:#6b7787;letter-spacing:0px;">UNITED STATES</div>
<div class="abs t" style="left:1589.0px;top:489.7px;font-size:19.2px;font-weight:normal;color:#6b7787;letter-spacing:0px;">473468083284.1056</div>
<div class="abs t" style="left:1311.7px;top:547.7px;font-size:18px;font-weight:normal;color:#6b7787;letter-spacing:0px;">CHINA</div>
<div class="abs t" style="left:1589.0px;top:546.7px;font-size:19.2px;font-weight:normal;color:#6b7787;letter-spacing:0px;">173113446567.47205</div>
<div class="abs" style="left:1976.7px;top:330px;width:20.1px;height:273.3px;background:#fafafa"></div>
<svg class="abs" style="left:0;top:0" width="2048" height="700"><g fill="#8a8a8a" stroke="#8a8a8a" stroke-width="1.6" stroke-linejoin="round"><path d="M1987,338.2 L1992.2,345.6 L1981.8,345.6 Z"/><path d="M1982,590.2 L1992,590.2 L1987,597 Z"/></g></svg>
<div class="abs" style="left:1980.9px;top:355px;width:12.3px;height:89.8px;background:#8a8a8a;border-radius:6.2px"></div>
<div class="abs" style="left:16px;top:652px;width:1088px;height:881px;background:#d2dce6;border-radius:9px"></div>
<div class="abs" style="left:22px;top:670px;width:1074px;height:59px;background:#d6dfe9"></div>
<div class="abs" style="left:22px;top:729px;width:1074px;height:794px;background:#fff"></div>
<div class="abs t" style="left:31.4px;top:678.4px;font-size:30.6px;font-weight:bold;color:#27344b;letter-spacing:0px;">Top to Bottom Countries</div>
<div class="abs" style="left:1011px;top:729.5px;width:44px;height:666px;background:#fafafa"></div>
<div class="abs" style="left:214px;top:747.5px;width:797px;height:2px;background:#ebebeb"></div>
<div class="abs" style="left:214.5px;top:756.0px;width:659.0px;height:22.5px;background:#8f9aab;border-radius:0 11.5px 11.5px 0"></div>
<div class="abs t" style="right:1864px;top:755.1px;font-size:24.6px;color:#3a3a3a;transform:scaleX(0.865);transform-origin:right center">UNITE...</div>
<div class="abs t" style="left:886.0px;top:758.3px;font-size:20.8px;font-weight:bold;color:#111;letter-spacing:0px;">482.2B</div>
<div class="abs" style="left:214px;top:786.1px;width:797px;height:2px;background:#ebebeb"></div>
<div class="abs" style="left:214.5px;top:794.6px;width:647.1px;height:22.5px;background:#e4e7ec;border-radius:0 11.5px 11.5px 0"></div>
<div class="abs t" style="right:1864px;top:793.7px;font-size:24.6px;color:#3a3a3a;transform:scaleX(0.865);transform-origin:right center">UNITE...</div>
<div class="abs t" style="left:874.1px;top:796.9px;font-size:20.8px;font-weight:bold;color:#111;letter-spacing:0px;">473.5B</div>
<div class="abs" style="left:214px;top:824.7px;width:797px;height:2px;background:#ebebeb"></div>
<div class="abs" style="left:214.5px;top:833.2px;width:234.3px;height:22.5px;background:#8f9aab;border-radius:0 11.5px 11.5px 0"></div>
<div class="abs t" style="right:1864px;top:832.3px;font-size:24.6px;color:#3a3a3a;transform:scaleX(0.865);transform-origin:right center">CHINA</div>
<div class="abs t" style="left:461.3px;top:835.5px;font-size:20.8px;font-weight:bold;color:#111;letter-spacing:0px;">173.1B</div>
<div class="abs" style="left:214px;top:863.3px;width:797px;height:2px;background:#ebebeb"></div>
<div class="abs" style="left:214.5px;top:871.8px;width:60.3px;height:22.5px;background:#e4e7ec;border-radius:0 11.5px 11.5px 0"></div>
<div class="abs t" style="right:1864px;top:870.9px;font-size:24.6px;color:#3a3a3a;transform:scaleX(0.865);transform-origin:right center">UNITE...</div>
<div class="abs t" style="left:287.3px;top:874.1px;font-size:20.8px;font-weight:bold;color:#111;letter-spacing:0px;">46.4B</div>
<div class="abs" style="left:214px;top:901.9px;width:797px;height:2px;background:#ebebeb"></div>
<div class="abs" style="left:214.5px;top:910.4px;width:56.1px;height:22.5px;background:#8f9aab;border-radius:0 11.5px 11.5px 0"></div>
<div class="abs t" style="right:1864px;top:909.5px;font-size:24.6px;color:#3a3a3a;transform:scaleX(0.865);transform-origin:right center">SINGA...</div>
<div class="abs t" style="left:283.1px;top:912.7px;font-size:20.8px;font-weight:bold;color:#111;letter-spacing:0px;">43.4B</div>
<div class="abs" style="left:214px;top:940.5px;width:797px;height:2px;background:#ebebeb"></div>
<div class="abs" style="left:214.5px;top:949.0px;width:54.6px;height:22.5px;background:#e4e7ec;border-radius:0 11.5px 11.5px 0"></div>
<div class="abs t" style="right:1864px;top:948.1px;font-size:24.6px;color:#3a3a3a;transform:scaleX(0.865);transform-origin:right center">HONG ...</div>
<div class="abs t" style="left:281.6px;top:951.3px;font-size:20.8px;font-weight:bold;color:#111;letter-spacing:0px;">42.3B</div>
<div class="abs" style="left:214px;top:979.1px;width:797px;height:2px;background:#ebebeb"></div>
<div class="abs" style="left:214.5px;top:987.6px;width:41.2px;height:22.5px;background:#8f9aab;border-radius:0 11.5px 11.5px 0"></div>
<div class="abs t" style="right:1864px;top:986.7px;font-size:24.6px;color:#3a3a3a;transform:scaleX(0.865);transform-origin:right center">NEPAL</div>
<div class="abs t" style="left:268.2px;top:989.9px;font-size:20.8px;font-weight:bold;color:#111;letter-spacing:0px;">32.5B</div>
<div class="abs" style="left:214px;top:1017.7px;width:797px;height:2px;background:#ebebeb"></div>
<div class="abs" style="left:214.5px;top:1026.2px;width:37.7px;height:22.5px;background:#e4e7ec;border-radius:0 11.5px 11.5px 0"></div>
<div class="abs t" style="right:1864px;top:1025.3px;font-size:24.6px;color:#3a3a3a;transform:scaleX(0.865);transform-origin:right center">ITALY</div>
<div class="abs t" style="left:264.7px;top:1028.5px;font-size:20.8px;font-weight:bold;color:#111;letter-spacing:0px;">30.0B</div>
<div class="abs" style="left:214px;top:1056.3px;width:797px;height:2px;background:#ebebeb"></div>
<div class="abs" style="left:214.5px;top:1064.8px;width:29.2px;height:22.5px;background:#8f9aab;border-radius:0 11.5px 11.5px 0"></div>
<div class="abs t" style="right:1864px;top:1063.9px;font-size:24.6px;color:#3a3a3a;transform:scaleX(0.865);transform-origin:right center">FRANC...</div>
<div class="abs t" style="left:256.2px;top:1067.1px;font-size:20.8px;font-weight:bold;color:#111;letter-spacing:0px;">23.8B</div>
<div class="abs" style="left:214px;top:1094.9px;width:797px;height:2px;background:#ebebeb"></div>
<div class="abs" style="left:214.5px;top:1103.4px;width:28.4px;height:22.5px;background:#e4e7ec;border-radius:0 11.5px 11.5px 0"></div>
<div class="abs t" style="right:1864px;top:1102.5px;font-size:24.6px;color:#3a3a3a;transform:scaleX(0.865);transform-origin:right center">MALAY...</div>
<div class="abs t" style="left:255.4px;top:1105.7px;font-size:20.8px;font-weight:bold;color:#111;letter-spacing:0px;">23.2B</div>
<div class="abs" style="left:214px;top:1133.5px;width:797px;height:2px;background:#ebebeb"></div>
<div class="abs" style="left:214.5px;top:1142.0px;width:27.4px;height:22.5px;background:#8f9aab;border-radius:0 11.5px 11.5px 0"></div>
<div class="abs t" style="right:1864px;top:1141.1px;font-size:24.6px;color:#3a3a3a;transform:scaleX(0.865);transform-origin:right center">SWITZ...</div>
<div class="abs t" style="left:254.4px;top:1144.3px;font-size:20.8px;font-weight:bold;color:#111;letter-spacing:0px;">22.5B</div>
<div class="abs" style="left:214px;top:1172.1px;width:797px;height:2px;background:#ebebeb"></div>
<div class="abs" style="left:214.5px;top:1180.6px;width:27.1px;height:22.5px;background:#e4e7ec;border-radius:0 11.5px 11.5px 0"></div>
<div class="abs t" style="right:1864px;top:1179.7px;font-size:24.6px;color:#3a3a3a;transform:scaleX(0.865);transform-origin:right center">AUSTR...</div>
<div class="abs t" style="left:254.1px;top:1182.9px;font-size:20.8px;font-weight:bold;color:#111;letter-spacing:0px;">22.3B</div>
<div class="abs" style="left:214px;top:1210.7px;width:797px;height:2px;background:#ebebeb"></div>
<div class="abs" style="left:214.5px;top:1219.2px;width:22.9px;height:22.5px;background:#8f9aab;border-radius:0 11.5px 11.5px 0"></div>
<div class="abs t" style="right:1864px;top:1218.3px;font-size:24.6px;color:#3a3a3a;transform:scaleX(0.865);transform-origin:right center">CANAD...</div>
<div class="abs t" style="left:249.9px;top:1221.5px;font-size:20.8px;font-weight:bold;color:#111;letter-spacing:0px;">19.2B</div>
<div class="abs" style="left:214px;top:1249.3px;width:797px;height:2px;background:#ebebeb"></div>
<div class="abs" style="left:214.5px;top:1257.8px;width:22.5px;height:22.5px;background:#e4e7ec;border-radius:0 11.5px 11.5px 0"></div>
<div class="abs t" style="right:1864px;top:1256.9px;font-size:24.6px;color:#3a3a3a;transform:scaleX(0.865);transform-origin:right center">SAUDI...</div>
<div class="abs t" style="left:249.5px;top:1260.1px;font-size:20.8px;font-weight:bold;color:#111;letter-spacing:0px;">18.9B</div>
<div class="abs" style="left:214px;top:1287.9px;width:797px;height:2px;background:#ebebeb"></div>
<div class="abs" style="left:214.5px;top:1296.4px;width:22.3px;height:22.5px;background:#8f9aab;border-radius:0 11.5px 11.5px 0"></div>
<div class="abs t" style="right:1864px;top:1295.5px;font-size:24.6px;color:#3a3a3a;transform:scaleX(0.865);transform-origin:right center">GERMA...</div>
<div class="abs t" style="left:249.3px;top:1298.7px;font-size:20.8px;font-weight:bold;color:#111;letter-spacing:0px;">18.8B</div>
<div class="abs" style="left:214px;top:1326.5px;width:797px;height:2px;background:#ebebeb"></div>
<div class="abs" style="left:214.5px;top:1335.0px;width:21.9px;height:22.5px;background:#e4e7ec;border-radius:0 11.5px 11.5px 0"></div>
<div class="abs t" style="right:1864px;top:1334.1px;font-size:24.6px;color:#3a3a3a;transform:scaleX(0.865);transform-origin:right center">BANGL...</div>
<div class="abs t" style="left:248.9px;top:1337.3px;font-size:20.8px;font-weight:bold;color:#111;letter-spacing:0px;">18.5B</div>
<div class="abs" style="left:214px;top:1365.1px;width:797px;height:2px;background:#ebebeb"></div>
<div class="abs" style="left:214.5px;top:1373.6px;width:20.3px;height:22.5px;background:#8f9aab;border-radius:0 11.5px 11.5px 0"></div>
<div class="abs t" style="right:1864px;top:1372.7px;font-size:24.6px;color:#3a3a3a;transform:scaleX(0.865);transform-origin:right center">BELGI...</div>
<div class="abs t" style="left:247.3px;top:1375.9px;font-size:20.8px;font-weight:bold;color:#111;letter-spacing:0px;">17.3B</div>
<div class="abs" style="left:22px;top:1307px;width:990px;height:110px;background:rgba(255,255,255,0.86)"></div>
<div class="abs t" style="left:-287.0px;width:1000px;text-align:center;top:1339.8px;font-size:22px;font-weight:normal;color:#333;letter-spacing:0px;">0.0</div>
<div class="abs t" style="left:-149.9px;width:1000px;text-align:center;top:1339.8px;font-size:22px;font-weight:normal;color:#333;letter-spacing:0px;">100.0B</div>
<div class="abs t" style="left:-12.8px;width:1000px;text-align:center;top:1339.8px;font-size:22px;font-weight:normal;color:#333;letter-spacing:0px;">200.0B</div>
<div class="abs t" style="left:124.3px;width:1000px;text-align:center;top:1339.8px;font-size:22px;font-weight:normal;color:#333;letter-spacing:0px;">300.0B</div>
<div class="abs t" style="left:261.4px;width:1000px;text-align:center;top:1339.8px;font-size:22px;font-weight:normal;color:#333;letter-spacing:0px;">400.0B</div>
<div class="abs t" style="left:398.5px;width:1000px;text-align:center;top:1339.8px;font-size:22px;font-weight:normal;color:#333;letter-spacing:0px;">500.0B</div>
<div class="abs t" style="left:973.5px;top:1339.8px;font-size:22px;font-weight:normal;color:#333;letter-spacing:0px;">600...</div>
<svg class="abs" style="left:0;top:0" width="2048" height="1536"><path d="M1028,747.2 L1038.5,747.2 L1045.5,760.6 L1021,760.6 Z" fill="#8a8a8a" stroke="#8a8a8a" stroke-width="2.4" stroke-linejoin="round"/><path d="M1021,1368 L1034,1385 L1047,1368 Z" fill="#ececec"/><path d="M1040,1368 L1047,1368 L1040,1380 Z" fill="#777"/></svg>
<div class="abs" style="left:1021px;top:781px;width:24.5px;height:47px;background:#8a8a8a;border-radius:12px"></div>
<div class="abs" style="left:1112px;top:652px;width:916px;height:434px;background:#d2dce6;border-radius:9px"></div>
<div class="abs" style="left:1118px;top:658px;width:904px;height:36px;background:#d6dfe9"></div>
<div class="abs" style="left:1118px;top:694px;width:904px;height:386px;background:#fff"></div>
<div class="abs t" style="left:1125.8px;top:663.0px;font-size:18.9px;font-weight:bold;color:#27344b;letter-spacing:0px;">Monthly Trend Comparision</div>
<div class="abs" style="left:1125px;top:702.8px;width:870.3px;height:2px;background:#c6ccd4"></div>
<div class="abs" style="left:1125px;top:704.8px;width:870.3px;height:68.2px;background:#d6dfe9"></div>
<div class="abs t" style="left:1154.4px;top:721.0px;font-size:13.6px;font-weight:bold;color:#2a2f36;letter-spacing:1.15px;">MONTH/YEAR</div>
<div class="abs t" style="left:1316.8px;top:721.0px;font-size:13.6px;font-weight:bold;color:#2a2f36;letter-spacing:1.15px;">CURRENT YEAR:</div>
<div class="abs t" style="left:1316.8px;top:743.2px;font-size:13.6px;font-weight:bold;color:#2a2f36;letter-spacing:1.15px;">VALUE</div>
<div class="abs t" style="left:1551.0px;top:721.0px;font-size:13.6px;font-weight:bold;color:#2a2f36;letter-spacing:1.15px;">PREVIOUS YEAR:</div>
<div class="abs t" style="left:1551.0px;top:743.2px;font-size:13.6px;font-weight:bold;color:#2a2f36;letter-spacing:1.15px;">VALUE</div>
<div class="abs t" style="left:1791.0px;top:721.0px;font-size:13.6px;font-weight:bold;color:#2a2f36;letter-spacing:1.15px;">MONTHLY YOY</div>
<div class="abs t" style="left:1791.0px;top:743.2px;font-size:13.6px;font-weight:bold;color:#2a2f36;letter-spacing:1.15px;">GROWTH</div>
<div class="abs" style="left:1125px;top:773px;width:756px;height:62px;background:#f6f7f9"></div>
<div class="abs" style="left:1125px;top:834.2px;width:637px;height:1.3px;background:#d5dae0"></div>
<div class="abs" style="left:1762px;top:829px;width:119px;height:5px;border-bottom:1.3px solid #dde1e6;border-radius:0 0 5px 5px"></div>
<div class="abs t" style="left:1154.4px;top:790.2px;font-size:13.5px;font-weight:bold;color:#8a93a0;letter-spacing:2.0px;">APR-2024</div>
<div class="abs t" style="left:1316.8px;top:790.4px;font-size:16px;font-weight:normal;color:#6c7584;letter-spacing:0.7px;">19462458</div>
<div class="abs t" style="left:1551.0px;top:790.4px;font-size:16px;font-weight:normal;color:#6c7584;letter-spacing:0.7px;">0</div>
<div class="abs" style="left:1778px;top:785.3px;width:87px;height:36.6px;background:#dcefe2;border-radius:6px"></div>
<div class="abs t" style="left:1310.5px;width:1000px;text-align:center;top:795.9px;font-size:16px;font-weight:normal;color:#3aae66;letter-spacing:0px;">100%</div>
<svg class="abs" style="left:0;top:0" width="2048" height="1536"><path d="M1843.5,807.5 V796.5 M1839.5,800.5 L1843.5,796.3 L1847.5,800.5" fill="none" stroke="#3aae66" stroke-width="2"/></svg>
<div class="abs" style="left:1125px;top:835px;width:756px;height:62px;background:#fff"></div>
<div class="abs" style="left:1125px;top:896.2px;width:637px;height:1.3px;background:#d5dae0"></div>
<div class="abs" style="left:1762px;top:891px;width:119px;height:5px;border-bottom:1.3px solid #dde1e6;border-radius:0 0 5px 5px"></div>
<div class="abs t" style="left:1154.4px;top:852.2px;font-size:13.5px;font-weight:bold;color:#8a93a0;letter-spacing:2.0px;">MAY-2024</div>
<div class="abs t" style="left:1316.8px;top:852.4px;font-size:16px;font-weight:normal;color:#6c7584;letter-spacing:0.7px;">2827248</div>
<div class="abs t" style="left:1551.0px;top:852.4px;font-size:16px;font-weight:normal;color:#6c7584;letter-spacing:0.7px;">0</div>
<div class="abs" style="left:1778px;top:847.3px;width:87px;height:36.6px;background:#e3f5e8;border-radius:6px"></div>
<div class="abs t" style="left:1310.5px;width:1000px;text-align:center;top:857.9px;font-size:16px;font-weight:normal;color:#3aae66;letter-spacing:0px;">100%</div>
<svg class="abs" style="left:0;top:0" width="2048" height="1536"><path d="M1843.5,869.5 V858.5 M1839.5,862.5 L1843.5,858.3 L1847.5,862.5" fill="none" stroke="#3aae66" stroke-width="2"/></svg>
<div class="abs" style="left:1125px;top:897px;width:756px;height:62.5px;background:#f6f7f9"></div>
<div class="abs" style="left:1125px;top:958.7px;width:637px;height:1.3px;background:#d5dae0"></div>
<div class="abs" style="left:1762px;top:953.5px;width:119px;height:5px;border-bottom:1.3px solid #dde1e6;border-radius:0 0 5px 5px"></div>
<div class="abs t" style="left:1154.4px;top:914.2px;font-size:13.5px;font-weight:bold;color:#8a93a0;letter-spacing:2.0px;">JUN-2024</div>
<div class="abs t" style="left:1316.8px;top:914.4px;font-size:16px;font-weight:normal;color:#6c7584;letter-spacing:0.7px;">6777914</div>
<div class="abs t" style="left:1551.0px;top:914.4px;font-size:16px;font-weight:normal;color:#6c7584;letter-spacing:0.7px;">0</div>
<div class="abs" style="left:1778px;top:909.3px;width:87px;height:36.6px;background:#dcefe2;border-radius:6px"></div>
<div class="abs t" style="left:1310.5px;width:1000px;text-align:center;top:919.9px;font-size:16px;font-weight:normal;color:#3aae66;letter-spacing:0px;">100%</div>
<svg class="abs" style="left:0;top:0" width="2048" height="1536"><path d="M1843.5,931.5 V920.5 M1839.5,924.5 L1843.5,920.3 L1847.5,924.5" fill="none" stroke="#3aae66" stroke-width="2"/></svg>
<div class="abs" style="left:1125px;top:959.5px;width:756px;height:61.5px;background:#fff"></div>
<div class="abs" style="left:1125px;top:1020.2px;width:637px;height:1.3px;background:#d5dae0"></div>
<div class="abs" style="left:1762px;top:1015px;width:119px;height:5px;border-bottom:1.3px solid #dde1e6;border-radius:0 0 5px 5px"></div>
<div class="abs t" style="left:1154.4px;top:976.7px;font-size:13.5px;font-weight:bold;color:#8a93a0;letter-spacing:2.0px;">JUL-2024</div>
<div class="abs t" style="left:1316.8px;top:976.9px;font-size:16px;font-weight:normal;color:#6c7584;letter-spacing:0.7px;">20382973</div>
<div class="abs t" style="left:1551.0px;top:976.9px;font-size:16px;font-weight:normal;color:#6c7584;letter-spacing:0.7px;">12076292</div>
<div class="abs" style="left:1771px;top:971.8px;width:101.5px;height:36.6px;background:#e3f5e8;border-radius:6px"></div>
<div class="abs t" style="left:1310.8px;width:1000px;text-align:center;top:982.4px;font-size:16px;font-weight:normal;color:#3aae66;letter-spacing:0px;">40.75%</div>
<svg class="abs" style="left:0;top:0" width="2048" height="1536"><path d="M1851.8,994.0 V983.0 M1847.8,987.0 L1851.8,982.8 L1855.8,987.0" fill="none" stroke="#3aae66" stroke-width="2"/></svg>
<div class="abs" style="left:1125px;top:1021px;width:756px;height:59px;background:#f6f7f9"></div>
<div class="abs t" style="left:1154.4px;top:1038.2px;font-size:13.5px;font-weight:bold;color:#8a93a0;letter-spacing:2.0px;">AUG-2024</div>
<div class="abs t" style="left:1316.8px;top:1038.4px;font-size:16px;font-weight:normal;color:#6c7584;letter-spacing:0.7px;">10614209</div>
<div class="abs t" style="left:1551.0px;top:1038.4px;font-size:16px;font-weight:normal;color:#6c7584;letter-spacing:0.7px;">3797596</div>
<div class="abs" style="left:1771px;top:1033.3px;width:101.5px;height:36.6px;background:#dcefe2;border-radius:6px"></div>
<div class="abs t" style="left:1310.8px;width:1000px;text-align:center;top:1043.9px;font-size:16px;font-weight:normal;color:#3aae66;letter-spacing:0px;">64.22%</div>
<svg class="abs" style="left:0;top:0" width="2048" height="1536"><path d="M1851.8,1055.5 V1044.5 M1847.8,1048.5 L1851.8,1044.3 L1855.8,1048.5" fill="none" stroke="#3aae66" stroke-width="2"/></svg>
<div class="abs" style="left:1995.6px;top:703px;width:16px;height:377px;background:#fafafa"></div>
<svg class="abs" style="left:0;top:0" width="2048" height="1536"><path d="M2003.1,709.8 L2007.3,715.2 L1998.9,715.2 Z" fill="#8a8a8a" stroke="#8a8a8a" stroke-width="1.4" stroke-linejoin="round"/></svg>
<div class="abs" style="left:1999px;top:723px;width:8.5px;height:205px;background:#8a8a8a;border-radius:4px"></div>
<div class="abs" style="left:1112px;top:1090px;width:916px;height:443px;background:#d2dce6;border-radius:9px"></div>
<div class="abs" style="left:1118px;top:1095px;width:904px;height:432px;background:#fff"></div>
<div class="abs" style="left:1133.2px;top:1105.6px;width:156.6px;height:33px;border:1px solid #d9d9d9;border-radius:3px;background:#fff"></div>
<div class="abs t" style="left:1149.0px;top:1115.9px;font-size:14px;font-weight:normal;color:#333;letter-spacing:0px;">Export</div>
<svg class="abs" style="left:0;top:0" width="2048" height="1536"><path d="M1267.5,1120.5 L1272,1125 L1276.5,1120.5" fill="none" stroke="#999" stroke-width="1.2"/></svg>
<div class="abs" style="left:1301.4px;top:1107.8px;width:232.5px;height:28.2px;border:1px solid #b8b8b8;border-radius:4px;background:#fff"></div>
<div class="abs t" style="left:1306.8px;top:1116.3px;font-size:12px;font-weight:normal;color:#444;letter-spacing:0px;">Select options</div>
<div class="abs" style="left:1551.1px;top:1108.8px;width:132.7px;height:27.9px;background:#0b6cfb;border-radius:2px;box-shadow:0 1px 3px rgba(0,0,0,0.25)"></div>
<div class="abs t" style="left:1117.4px;width:1000px;text-align:center;top:1115.7px;font-size:14px;font-weight:bold;color:#fff;letter-spacing:0.3px;">Save &amp; Search</div>
<div class="abs" style="left:1124.3px;top:1148.5px;width:884px;height:1.3px;background:#e6e6e6"></div>
<div class="abs t" style="left:1065.9px;width:1000px;text-align:center;top:1157.7px;font-size:13.3px;font-weight:bold;color:#333;letter-spacing:0px;">Company Performance in Financial Year:2025-2026</div>
<svg class="abs" style="left:0;top:0" width="2048" height="1536"><line x1="1177.4" x2="1998.9" y1="1378.3" y2="1378.3" stroke="#ebebeb" stroke-width="1"/><line x1="1177.4" x2="1998.9" y1="1315.9" y2="1315.9" stroke="#ebebeb" stroke-width="1"/><line x1="1177.4" x2="1998.9" y1="1253.5" y2="1253.5" stroke="#ebebeb" stroke-width="1"/><line x1="1177.4" x2="1998.9" y1="1191.1" y2="1191.1" stroke="#ebebeb" stroke-width="1"/><path d="M1195.1,1440.7 V1412.9 Q1195.1,1410.9 1197.1,1410.9 H1206.1 Q1208.1,1410.9 1208.1,1412.9 V1440.7 Z" fill="#2eaefc"/><path d="M1215.6,1440.7 V1278.0 Q1215.6,1276.0 1217.6,1276.0 H1226.6 Q1228.6,1276.0 1228.6,1278.0 V1440.7 Z" fill="#5850c4"/><path d="M1263.6,1440.7 V1397.8 Q1263.6,1395.8 1265.6,1395.8 H1274.6 Q1276.6,1395.8 1276.6,1397.8 V1440.7 Z" fill="#2eaefc"/><path d="M1284.1,1440.7 V1308.5 Q1284.1,1306.5 1286.1,1306.5 H1295.1 Q1297.1,1306.5 1297.1,1308.5 V1440.7 Z" fill="#5850c4"/><path d="M1332.0,1440.7 V1385.3 Q1332.0,1383.3 1334.0,1383.3 H1343.0 Q1345.0,1383.3 1345.0,1385.3 V1440.7 Z" fill="#2eaefc"/><path d="M1352.5,1440.7 V1262.7 Q1352.5,1260.7 1354.5,1260.7 H1363.5 Q1365.5,1260.7 1365.5,1262.7 V1440.7 Z" fill="#5850c4"/><path d="M1400.5,1440.7 V1399.3 Q1400.5,1397.3 1402.5,1397.3 H1411.5 Q1413.5,1397.3 1413.5,1399.3 V1440.7 Z" fill="#2eaefc"/><path d="M1421.0,1440.7 V1234.6 Q1421.0,1232.6 1423.0,1232.6 H1432.0 Q1434.0,1232.6 1434.0,1234.6 V1440.7 Z" fill="#5850c4"/><path d="M1469.0,1440.7 V1396.5 Q1469.0,1394.5 1471.0,1394.5 H1480.0 Q1482.0,1394.5 1482.0,1396.5 V1440.7 Z" fill="#2eaefc"/><path d="M1489.5,1440.7 V1334.9 Q1489.5,1332.9 1491.5,1332.9 H1500.5 Q1502.5,1332.9 1502.5,1334.9 V1440.7 Z" fill="#5850c4"/><path d="M1537.4,1440.7 V1377.3 Q1537.4,1375.3 1539.4,1375.3 H1548.4 Q1550.4,1375.3 1550.4,1377.3 V1440.7 Z" fill="#2eaefc"/><path d="M1557.9,1440.7 V1255.9 Q1557.9,1253.9 1559.9,1253.9 H1568.9 Q1570.9,1253.9 1570.9,1255.9 V1440.7 Z" fill="#5850c4"/><path d="M1605.9,1440.7 V1368.9 Q1605.9,1366.9 1607.9,1366.9 H1616.9 Q1618.9,1366.9 1618.9,1368.9 V1440.7 Z" fill="#2eaefc"/><path d="M1626.4,1440.7 V1299.3 Q1626.4,1297.3 1628.4,1297.3 H1637.4 Q1639.4,1297.3 1639.4,1299.3 V1440.7 Z" fill="#5850c4"/><path d="M1674.3,1440.7 V1376.4 Q1674.3,1374.4 1676.3,1374.4 H1685.3 Q1687.3,1374.4 1687.3,1376.4 V1440.7 Z" fill="#2eaefc"/><path d="M1694.8,1440.7 V1303.2 Q1694.8,1301.2 1696.8,1301.2 H1705.8 Q1707.8,1301.2 1707.8,1303.2 V1440.7 Z" fill="#5850c4"/><path d="M1742.8,1440.7 V1371.7 Q1742.8,1369.7 1744.8,1369.7 H1753.8 Q1755.8,1369.7 1755.8,1371.7 V1440.7 Z" fill="#2eaefc"/><path d="M1763.3,1440.7 V1284.5 Q1763.3,1282.5 1765.3,1282.5 H1774.3 Q1776.3,1282.5 1776.3,1284.5 V1440.7 Z" fill="#5850c4"/><path d="M1811.3,1440.7 V1363.7 Q1811.3,1361.7 1813.3,1361.7 H1822.3 Q1824.3,1361.7 1824.3,1363.7 V1440.7 Z" fill="#2eaefc"/><path d="M1831.8,1440.7 V1249.3 Q1831.8,1247.3 1833.8,1247.3 H1842.8 Q1844.8,1247.3 1844.8,1249.3 V1440.7 Z" fill="#5850c4"/><path d="M1879.7,1440.7 V1377.5 Q1879.7,1375.5 1881.7,1375.5 H1890.7 Q1892.7,1375.5 1892.7,1377.5 V1440.7 Z" fill="#2eaefc"/><path d="M1900.2,1440.7 V1311.4 Q1900.2,1309.4 1902.2,1309.4 H1911.2 Q1913.2,1309.4 1913.2,1311.4 V1440.7 Z" fill="#5850c4"/><path d="M1948.2,1440.7 V1385.7 Q1948.2,1383.7 1950.2,1383.7 H1959.2 Q1961.2,1383.7 1961.2,1385.7 V1440.7 Z" fill="#2eaefc"/><path d="M1968.7,1440.7 V1433.3 Q1968.7,1431.3 1970.7,1431.3 H1979.7 Q1981.7,1431.3 1981.7,1433.3 V1440.7 Z" fill="#5850c4"/><line x1="1177.4" x2="1998.9" y1="1440.7" y2="1440.7" stroke="#a3a3a3" stroke-width="1.5"/><circle cx="1509.6" cy="1496.9" r="5.6" fill="#2eaefc"/><circle cx="1581.9" cy="1496.9" r="5.6" fill="#5850c4"/></svg>
<div class="abs t" style="right:885.0px;top:1434.9px;font-size:11.5px;font-weight:normal;color:#444;letter-spacing:0px;">0</div>
<div class="abs t" style="right:885.0px;top:1372.5px;font-size:11.5px;font-weight:normal;color:#444;letter-spacing:0px;">100M</div>
<div class="abs t" style="right:885.0px;top:1310.1px;font-size:11.5px;font-weight:normal;color:#444;letter-spacing:0px;">200M</div>
<div class="abs t" style="right:885.0px;top:1247.7px;font-size:11.5px;font-weight:normal;color:#444;letter-spacing:0px;">300M</div>
<div class="abs t" style="right:885.0px;top:1185.3px;font-size:11.5px;font-weight:normal;color:#444;letter-spacing:0px;">400M</div>
<div class="abs t" style="left:711.6px;width:1000px;text-align:center;top:1456.3px;font-size:11.2px;font-weight:normal;color:#555;letter-spacing:0px;">APR</div>
<div class="abs t" style="left:780.1px;width:1000px;text-align:center;top:1456.3px;font-size:11.2px;font-weight:normal;color:#555;letter-spacing:0px;">MAY</div>
<div class="abs t" style="left:848.5px;width:1000px;text-align:center;top:1456.3px;font-size:11.2px;font-weight:normal;color:#555;letter-spacing:0px;">JUN</div>
<div class="abs t" style="left:917.0px;width:1000px;text-align:center;top:1456.3px;font-size:11.2px;font-weight:normal;color:#555;letter-spacing:0px;">JUL</div>
<div class="abs t" style="left:985.5px;width:1000px;text-align:center;top:1456.3px;font-size:11.2px;font-weight:normal;color:#555;letter-spacing:0px;">AUG</div>
<div class="abs t" style="left:1053.9px;width:1000px;text-align:center;top:1456.3px;font-size:11.2px;font-weight:normal;color:#555;letter-spacing:0px;">SEP</div>
<div class="abs t" style="left:1122.4px;width:1000px;text-align:center;top:1456.3px;font-size:11.2px;font-weight:normal;color:#555;letter-spacing:0px;">OCT</div>
<div class="abs t" style="left:1190.8px;width:1000px;text-align:center;top:1456.3px;font-size:11.2px;font-weight:normal;color:#555;letter-spacing:0px;">NOV</div>
<div class="abs t" style="left:1259.3px;width:1000px;text-align:center;top:1456.3px;font-size:11.2px;font-weight:normal;color:#555;letter-spacing:0px;">DEC</div>
<div class="abs t" style="left:1327.8px;width:1000px;text-align:center;top:1456.3px;font-size:11.2px;font-weight:normal;color:#555;letter-spacing:0px;">JAN</div>
<div class="abs t" style="left:1396.2px;width:1000px;text-align:center;top:1456.3px;font-size:11.2px;font-weight:normal;color:#555;letter-spacing:0px;">FEB</div>
<div class="abs t" style="left:1464.7px;width:1000px;text-align:center;top:1456.3px;font-size:11.2px;font-weight:normal;color:#555;letter-spacing:0px;">MAR</div>
<div class="abs t" style="left:1521.9px;top:1492.0px;font-size:11.5px;font-weight:normal;color:#444;letter-spacing:0px;">Export</div>
<div class="abs t" style="left:1594.6px;top:1492.0px;font-size:11.5px;font-weight:normal;color:#444;letter-spacing:0px;">Import</div>
</body></html>
